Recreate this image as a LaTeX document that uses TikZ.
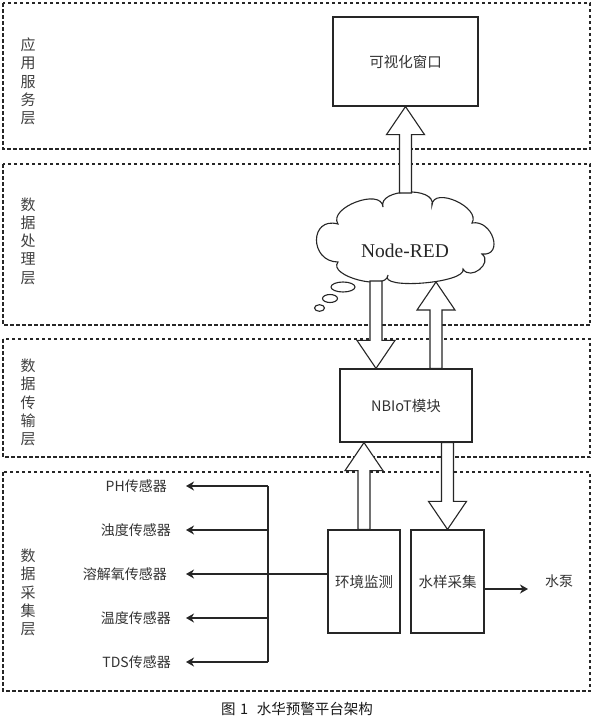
\documentclass[tikz,border=0pt]{standalone}
\usepackage{fontspec}
\setmainfont{Noto Sans CJK SC}
\newfontfamily\seriffont{Liberation Serif}
\usetikzlibrary{arrows.meta,calc}
\begin{document}
\begin{tikzpicture}[x=1pt,y=-1pt,
  layer/.style={draw=black!85, line width=1.3pt, dash pattern=on 3.5pt off 2.5pt},
  box/.style={draw=black!85, line width=1.2pt, fill=white, inner sep=0pt,
    font=\fontsize{14.5}{16}\selectfont, text=black!80},
  lbl/.style={font=\fontsize{14}{16}\selectfont, text=black!80, inner sep=0pt},
  vlabel/.style={font=\fontsize{15}{18.3}\selectfont, text=black!75, align=center, inner sep=0pt},
  thin line/.style={draw=black!85, line width=1.2pt},
  sarrow/.style={draw=black!85, line width=1.2pt, -{Stealth[length=8pt,width=9pt,inset=2.5pt]}},
  blkup/.style={draw=black!85, line width=1.1pt, fill=white, line join=miter,
    to path={let \p1=(\tikztostart), \p2=(\tikztotarget) in
      (\x1-6pt,\y1) -- (\x1-6pt,\y2-28pt) -- (\x1-19pt,\y2-28pt) -- (\x1,\y2)
      -- (\x1+19pt,\y2-28pt) -- (\x1+6pt,\y2-28pt) -- (\x1+6pt,\y1) -- cycle}},
  blkdown/.style={draw=black!85, line width=1.1pt, fill=white, line join=miter,
    to path={let \p1=(\tikztostart), \p2=(\tikztotarget) in
      (\x1-6pt,\y1) -- (\x1-6pt,\y2+28pt) -- (\x1-19pt,\y2+28pt) -- (\x1,\y2)
      -- (\x1+19pt,\y2+28pt) -- (\x1+6pt,\y2+28pt) -- (\x1+6pt,\y1) -- cycle}},
]
\useasboundingbox (0,0) rectangle (593,720);
\fill[white] (0,0) rectangle (593,720);

% layers
\draw[layer] (3,3) rectangle (590,149);
\draw[layer] (3,164) rectangle (590,325);
\draw[layer] (3,339) rectangle (590,457);
\draw[layer] (3,472) rectangle (590,691);

\node[vlabel] (l1) at (28,81.5) {应\\用\\服\\务\\层};
\node[vlabel] (l2) at (28,241) {数\\据\\处\\理\\层};
\node[vlabel] (l3) at (28,402.5) {数\\据\\传\\输\\层};
\node[vlabel] (l4) at (28,592.5) {数\\据\\采\\集\\层};

% boxes
\node[box, minimum width=145pt, minimum height=89pt] (viz) at (405.5,61.5) {可视化窗口};
\node[box, minimum width=132pt, minimum height=73pt] (nb) at (406,405.5) {NBIoT模块};
\node[box, minimum width=72pt, minimum height=103pt] (env) at (364,581.5) {环境监测};
\node[box, minimum width=73pt, minimum height=103pt] (sam) at (447.5,581.5) {水样采集};

% cloud
\draw[draw=black!85, line width=1.1pt, fill=white]
  (338,224) .. controls (327.5,207.7) and (381.5,187.3) .. (383,207)
  .. controls (377.4,188.5) and (436.2,186.1) .. (432,205)
  .. controls (433.3,185.9) and (481.3,207.5) .. (472,223)
  .. controls (492.3,219.2) and (504.3,256.4) .. (482,254)
  .. controls (493.2,263.2) and (470.4,281.2) .. (463,269)
  .. controls (467.2,283.1) and (377.2,290.3) .. (388,275)
  .. controls (387,291.6) and (327,276) .. (338,262)
  .. controls (309.3,261.8) and (309.3,216.2) .. (338,224) -- cycle;
\node[font=\seriffont\fontsize{19.5}{22}\selectfont, text=black!85, inner sep=0pt] (nr) at (405,251) {Node-RED};
\draw[draw=black!85, line width=1.1pt] (343,287) ellipse [x radius=12, y radius=5];
\draw[draw=black!85, line width=1.1pt] (330,298.5) ellipse [x radius=7.5, y radius=4];
\draw[draw=black!85, line width=1.1pt] (319.5,308) ellipse [x radius=5, y radius=3.3];

\coordinate (ctop) at (405.5,193);
\coordinate (cbl) at (376,281);
\coordinate (cbr) at (436,282);

% block arrows
\draw[blkup] (ctop) to (viz.south);
\draw[blkdown] (cbl) to (cbl |- nb.north);
\draw[blkup] (nb.north -| cbr) to (cbr);
\draw[blkup] (env.north) to (env.north |- nb.south);
\draw[blkdown] (sam.north |- nb.south) to (sam.north);

% sensors
\node[lbl, anchor=east] (s1) at (167,486) {PH传感器};
\node[lbl, anchor=east] (s2) at (171,530) {浊度传感器};
\node[lbl, anchor=east] (s3) at (167,574) {溶解氧传感器};
\node[lbl, anchor=east] (s4) at (171,618) {温度传感器};
\node[lbl, anchor=east] (s5) at (171,662) {TDS传感器};
\coordinate (j) at (268,574);
\coordinate (tipx) at (186,0);
\draw[thin line] (env.west |- j) -- (j);
\draw[thin line] (j |- s1.east) -- (j |- s5.east);
\draw[sarrow] (j |- s1.east) -- (tipx |- s1.east);
\draw[sarrow] (j |- s2.east) -- (tipx |- s2.east);
\draw[sarrow] (j |- s3.east) -- (tipx |- s3.east);
\draw[sarrow] (j |- s4.east) -- (tipx |- s4.east);
\draw[sarrow] (j |- s5.east) -- (tipx |- s5.east);

% pump
\node[lbl] (pump) at (559,581) {水泵};
\coordinate (pumpin) at (528,589);
\draw[sarrow] (sam.east |- pumpin) -- (pumpin);

% caption
\node[font=\fontsize{14.5}{16}\selectfont, text=black!90, inner sep=0pt] (cap) at (297,709) {图\hspace{0.3em}1\hspace{0.6em}水华预警平台架构};
\end{tikzpicture}
\end{document}
